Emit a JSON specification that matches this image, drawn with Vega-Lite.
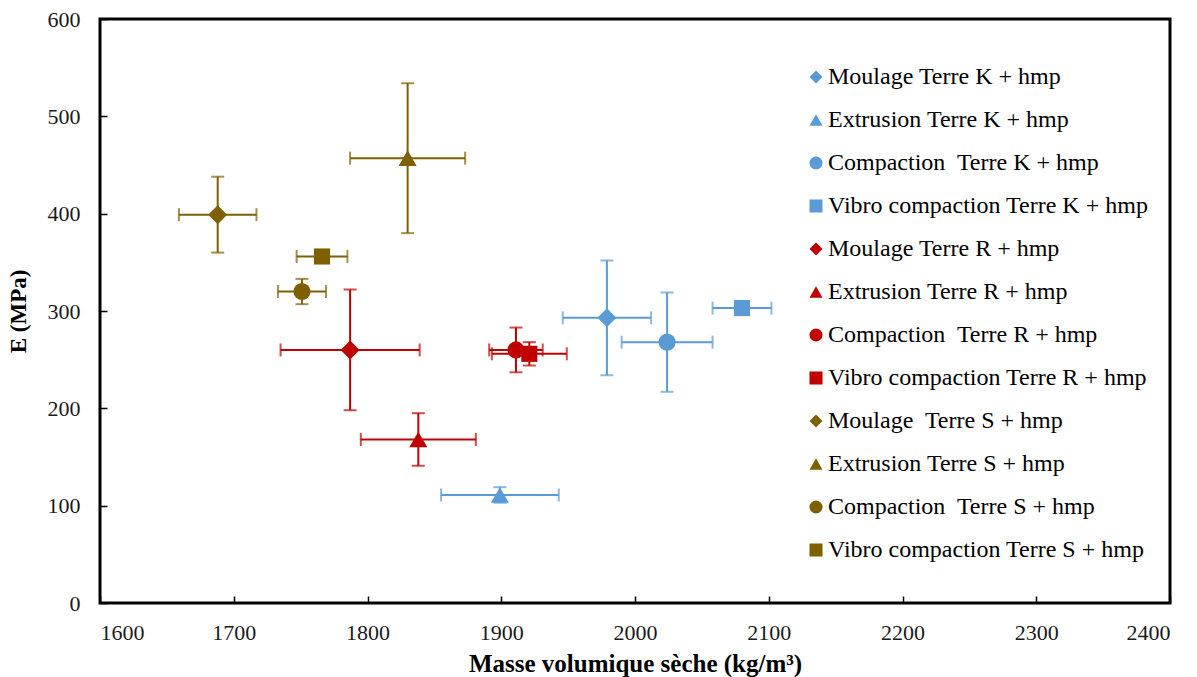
{
  "$schema": "https://vega.github.io/schema/vega-lite/v6.json",
  "width": 1070,
  "height": 584,
  "autosize": {"type": "none"},
  "padding": {"left": 100, "top": 19, "right": 27, "bottom": 74},
  "background": "white",
  "config": {
    "font": "Liberation Serif",
    "view": {"stroke": "black", "strokeWidth": 3},
    "axis": {
      "grid": false,
      "domain": false,
      "tickColor": "black",
      "tickWidth": 1.5,
      "tickSize": -7,
      "labelColor": "#1a1a1a",
      "labelFontSize": 22,
      "labelFont": "Liberation Serif",
      "titleFont": "Liberation Serif",
      "titleFontSize": 23,
      "titleFontWeight": "bold",
      "titleColor": "black"
    },
    "axisX": {"labelPadding": 26, "titlePadding": 8, "titleFontSize": 25},
    "axisY": {"labelPadding": 27, "titlePadding": 17},
    "legend": {
      "orient": "none",
      "legendX": 704,
      "legendY": 46,
      "labelFontSize": 24,
      "labelFont": "Liberation Serif",
      "labelColor": "black",
      "symbolSize": 170,
      "symbolOpacity": 1,
      "symbolStrokeWidth": 0,
      "rowPadding": 19,
      "labelOffset": 0,
      "padding": 0,
      "labelLimit": 400
    }
  },
  "data": {
    "values": [
      {"serie": "Moulage Terre K + hmp", "methode": "Moulage", "x": 1979, "y": 293, "xe": 33, "ye": 59},
      {"serie": "Extrusion Terre K + hmp", "methode": "Extrusion", "x": 1899, "y": 111, "xe": 44, "ye": 8},
      {"serie": "Compaction\u00a0 Terre K + hmp", "methode": "Compaction", "x": 2024, "y": 268, "xe": 34, "ye": 51},
      {"serie": "Vibro compaction Terre K + hmp", "methode": "Vibro", "x": 2080, "y": 303, "xe": 22, "ye": 0},
      {"serie": "Moulage Terre R + hmp", "methode": "Moulage", "x": 1787, "y": 260, "xe": 52, "ye": 62},
      {"serie": "Extrusion Terre R + hmp", "methode": "Extrusion", "x": 1838, "y": 168, "xe": 43, "ye": 27},
      {"serie": "Compaction\u00a0 Terre R + hmp", "methode": "Compaction", "x": 1911, "y": 260, "xe": 20, "ye": 23},
      {"serie": "Vibro compaction Terre R + hmp", "methode": "Vibro", "x": 1921, "y": 256, "xe": 28, "ye": 12},
      {"serie": "Moulage\u00a0 Terre S + hmp", "methode": "Moulage", "x": 1688, "y": 399, "xe": 29, "ye": 39},
      {"serie": "Extrusion Terre S + hmp", "methode": "Extrusion", "x": 1830, "y": 457, "xe": 43, "ye": 77},
      {"serie": "Compaction\u00a0 Terre S + hmp", "methode": "Compaction", "x": 1751, "y": 320, "xe": 18, "ye": 13},
      {"serie": "Vibro compaction Terre S + hmp", "methode": "Vibro", "x": 1766, "y": 356, "xe": 19, "ye": 0}
    ]
  },
  "layer": [
    {
      "mark": {"type": "errorbar", "ticks": {"size": 13}, "thickness": 2},
      "encoding": {
        "x": {"field": "x", "type": "quantitative", "title": "Masse volumique sèche (kg/m³)", "scale": {"domain": [1600, 2400], "nice": false}, "axis": {"values": [1600, 1700, 1800, 1900, 2000, 2100, 2200, 2300, 2400], "format": "d"}},
        "xError": {"field": "xe"},
        "y": {"field": "y", "type": "quantitative", "title": "E (MPa)", "scale": {"domain": [0, 600], "nice": false}, "axis": {"values": [0, 100, 200, 300, 400, 500, 600], "format": "d"}},
        "color": {"field": "serie", "type": "nominal", "title": null}
      }
    },
    {
      "mark": {"type": "errorbar", "ticks": {"size": 13}, "thickness": 2},
      "encoding": {
        "y": {"field": "y", "type": "quantitative", "title": "E (MPa)"},
        "yError": {"field": "ye"},
        "x": {"field": "x", "type": "quantitative", "title": "Masse volumique sèche (kg/m³)"},
        "color": {"field": "serie", "type": "nominal", "title": null}
      }
    },
    {
      "mark": {"type": "point", "filled": true, "opacity": 1},
      "encoding": {
        "x": {"field": "x", "type": "quantitative", "title": "Masse volumique sèche (kg/m³)"},
        "y": {"field": "y", "type": "quantitative", "title": "E (MPa)"},
        "color": {
          "field": "serie", "type": "nominal", "title": null,
          "scale": {
            "domain": ["Moulage Terre K + hmp", "Extrusion Terre K + hmp", "Compaction\u00a0 Terre K + hmp", "Vibro compaction Terre K + hmp", "Moulage Terre R + hmp", "Extrusion Terre R + hmp", "Compaction\u00a0 Terre R + hmp", "Vibro compaction Terre R + hmp", "Moulage\u00a0 Terre S + hmp", "Extrusion Terre S + hmp", "Compaction\u00a0 Terre S + hmp", "Vibro compaction Terre S + hmp"],
            "range": ["#5B9BD5", "#5B9BD5", "#5B9BD5", "#5B9BD5", "#C00000", "#C00000", "#C00000", "#C00000", "#7F6000", "#7F6000", "#7F6000", "#7F6000"]
          }
        },
        "shape": {
          "field": "serie", "type": "nominal", "title": null,
          "scale": {
            "domain": ["Moulage Terre K + hmp", "Extrusion Terre K + hmp", "Compaction\u00a0 Terre K + hmp", "Vibro compaction Terre K + hmp", "Moulage Terre R + hmp", "Extrusion Terre R + hmp", "Compaction\u00a0 Terre R + hmp", "Vibro compaction Terre R + hmp", "Moulage\u00a0 Terre S + hmp", "Extrusion Terre S + hmp", "Compaction\u00a0 Terre S + hmp", "Vibro compaction Terre S + hmp"],
            "range": ["diamond", "triangle-up", "circle", "square", "diamond", "triangle-up", "circle", "square", "diamond", "triangle-up", "circle", "square"]
          }
        },
        "size": {
          "field": "methode", "type": "nominal",
          "scale": {"domain": ["Moulage", "Extrusion", "Compaction", "Vibro"], "range": [360, 260, 400, 225]},
          "legend": null
        }
      }
    }
  ]
}
